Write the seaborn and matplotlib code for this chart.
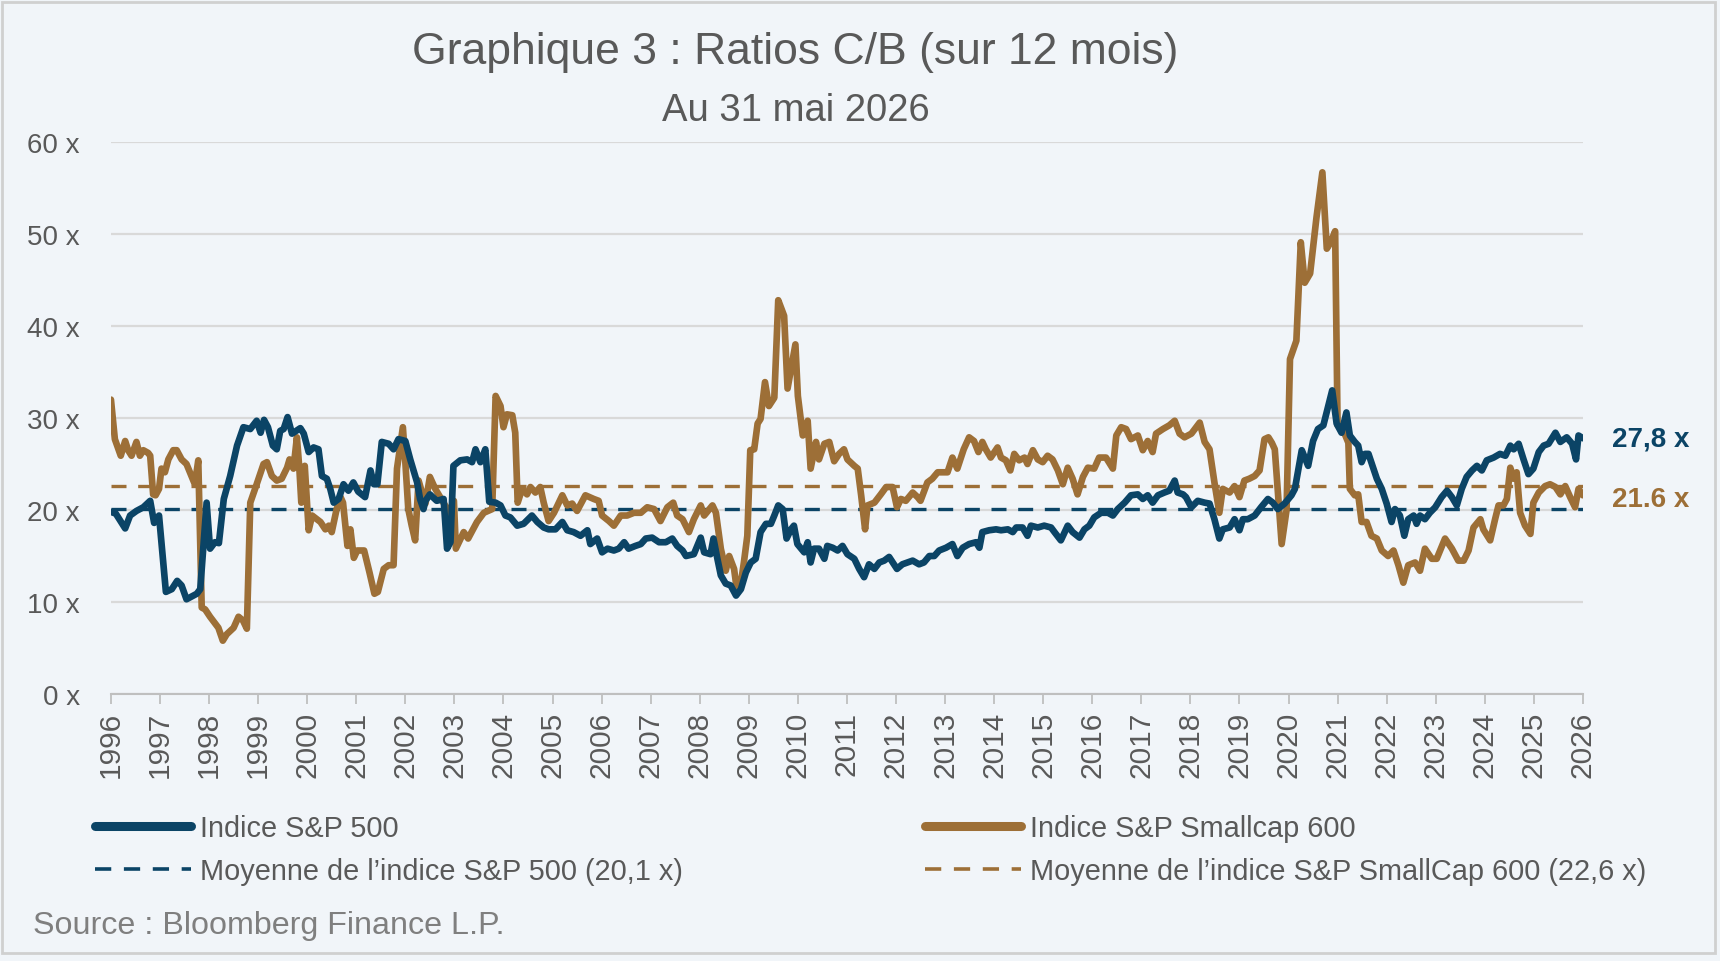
import pandas as pd
import seaborn as sns
import matplotlib.pyplot as plt
from matplotlib.lines import Line2D
from matplotlib.patches import Rectangle

# S&P 500 trailing P/E (fractional years)
spYears = [1996.00, 1996.10, 1996.29, 1996.39, 1996.52, 1996.66, 1996.80, 1996.88, 1996.98, 1997.12,
           1997.24, 1997.35, 1997.44, 1997.54, 1997.75, 1997.82, 1997.95, 1998.02, 1998.12, 1998.20,
           1998.30, 1998.43, 1998.57, 1998.70, 1998.84, 1998.97, 1999.05, 1999.12, 1999.20, 1999.30,
           1999.38, 1999.45, 1999.52, 1999.60, 1999.69, 1999.86, 1999.93, 2000.03, 2000.13, 2000.23,
           2000.30, 2000.40, 2000.47, 2000.54, 2000.64, 2000.74, 2000.84, 2000.94, 2001.04, 2001.18,
           2001.29, 2001.36, 2001.43, 2001.52, 2001.66, 2001.76, 2001.86, 2002.00, 2002.10, 2002.24,
           2002.30, 2002.37, 2002.41, 2002.50, 2002.64, 2002.78, 2002.85, 2002.92, 2002.98, 2003.12,
           2003.26, 2003.36, 2003.43, 2003.53, 2003.63, 2003.71, 2003.84, 2003.94, 2004.04, 2004.14,
           2004.28, 2004.41, 2004.58, 2004.69, 2004.82, 2004.92, 2005.06, 2005.20, 2005.30, 2005.43,
           2005.57, 2005.71, 2005.77, 2005.91, 2006.01, 2006.12, 2006.25, 2006.35, 2006.46, 2006.55,
           2006.69, 2006.80, 2006.90, 2007.03, 2007.17, 2007.31, 2007.44, 2007.54, 2007.65, 2007.72,
           2007.88, 2008.02, 2008.09, 2008.22, 2008.28, 2008.36, 2008.43, 2008.53, 2008.63, 2008.74,
           2008.84, 2008.94, 2009.04, 2009.14, 2009.24, 2009.35, 2009.45, 2009.52, 2009.60, 2009.69,
           2009.77, 2009.86, 2009.92, 2009.99, 2010.13, 2010.20, 2010.26, 2010.33, 2010.43, 2010.54,
           2010.60, 2010.71, 2010.81, 2010.91, 2011.01, 2011.15, 2011.25, 2011.35, 2011.45, 2011.56,
           2011.66, 2011.76, 2011.86, 2012.02, 2012.13, 2012.34, 2012.47, 2012.57, 2012.68, 2012.78,
           2012.88, 2013.02, 2013.15, 2013.25, 2013.36, 2013.49, 2013.63, 2013.70, 2013.76, 2013.90,
           2014.04, 2014.14, 2014.28, 2014.38, 2014.45, 2014.58, 2014.68, 2014.75, 2014.89, 2015.02,
           2015.16, 2015.23, 2015.36, 2015.50, 2015.60, 2015.74, 2015.84, 2015.94, 2016.04, 2016.18,
           2016.32, 2016.42, 2016.52, 2016.66, 2016.79, 2016.93, 2017.03, 2017.13, 2017.23, 2017.34,
           2017.47, 2017.57, 2017.68, 2017.74, 2017.85, 2017.91, 2018.02, 2018.15, 2018.29, 2018.39,
           2018.49, 2018.59, 2018.66, 2018.80, 2018.90, 2019.00, 2019.07, 2019.17, 2019.31, 2019.44,
           2019.58, 2019.68, 2019.78, 2019.92, 2020.06, 2020.13, 2020.27, 2020.40, 2020.50, 2020.60,
           2020.71, 2020.81, 2020.89, 2020.98, 2021.08, 2021.18, 2021.25, 2021.35, 2021.42, 2021.49,
           2021.56, 2021.63, 2021.73, 2021.80, 2021.90, 2022.00, 2022.10, 2022.17, 2022.27, 2022.36,
           2022.44, 2022.55, 2022.61, 2022.68, 2022.78, 2022.88, 2022.99, 2023.12, 2023.23, 2023.33,
           2023.43, 2023.53, 2023.63, 2023.74, 2023.84, 2023.94, 2024.04, 2024.18, 2024.31, 2024.42,
           2024.52, 2024.59, 2024.69, 2024.79, 2024.89, 2024.99, 2025.10, 2025.20, 2025.30, 2025.44,
           2025.54, 2025.67, 2025.78, 2025.86, 2025.91, 2026.00]
spValues = [19.8, 19.6, 18.0, 19.4, 19.9, 20.3, 21.0, 18.6, 19.4, 11.1,
            11.4, 12.3, 11.8, 10.3, 10.9, 11.4, 20.8, 15.8, 16.5, 16.4,
            21.2, 23.7, 27.0, 29.0, 28.8, 29.7, 28.4, 29.8, 29.0, 27.0,
            26.6, 28.6, 28.8, 30.1, 28.3, 28.9, 28.3, 26.3, 26.8, 26.6,
            23.7, 23.4, 22.3, 20.8, 21.2, 22.8, 22.1, 23.0, 22.0, 21.4,
            24.3, 22.8, 22.8, 27.4, 27.2, 26.6, 27.7, 27.5, 25.5, 23.0,
            21.2, 20.1, 21.0, 21.7, 21.0, 21.2, 15.8, 16.5, 24.8, 25.4,
            25.5, 25.2, 26.6, 25.2, 26.6, 20.9, 20.8, 20.5, 19.4, 19.2,
            18.3, 18.5, 19.4, 18.7, 18.1, 17.9, 17.9, 18.7, 17.8, 17.6,
            17.2, 17.8, 16.3, 16.9, 15.4, 15.8, 15.6, 15.8, 16.5, 15.8,
            16.1, 16.3, 16.9, 17.0, 16.5, 16.5, 16.9, 16.1, 15.6, 15.0,
            15.2, 17.0, 15.4, 15.2, 16.9, 14.7, 12.9, 12.0, 11.8, 10.7,
            11.4, 13.2, 14.3, 14.7, 17.6, 18.5, 18.5, 19.4, 20.5, 20.1,
            16.9, 17.9, 18.3, 16.3, 15.4, 16.5, 14.3, 15.8, 15.8, 14.7,
            16.1, 15.9, 15.6, 16.1, 15.2, 14.7, 13.6, 12.7, 14.1, 13.6,
            14.3, 14.5, 14.9, 13.6, 14.1, 14.5, 14.1, 14.3, 15.0, 15.0,
            15.6, 15.9, 16.3, 15.0, 15.9, 16.3, 16.5, 15.9, 17.6, 17.8,
            17.9, 17.8, 17.9, 17.6, 18.1, 18.1, 17.2, 18.3, 18.1, 18.3,
            18.1, 17.6, 16.7, 18.3, 17.6, 17.0, 17.9, 18.3, 19.2, 19.7,
            19.7, 19.4, 20.1, 20.8, 21.6, 21.7, 21.2, 21.6, 20.8, 21.6,
            21.9, 22.1, 23.2, 21.9, 21.7, 21.4, 20.3, 21.0, 20.8, 20.7,
            19.0, 16.9, 17.9, 18.1, 19.0, 17.8, 19.0, 19.0, 19.4, 20.3,
            21.2, 20.8, 20.1, 20.7, 21.6, 22.3, 26.5, 24.8, 27.5, 28.8,
            29.2, 31.3, 33.0, 29.4, 28.4, 30.6, 28.1, 27.4, 27.0, 25.2,
            26.1, 26.1, 24.5, 23.4, 22.3, 20.7, 18.7, 20.1, 19.4, 17.2,
            19.0, 19.4, 18.5, 19.4, 19.0, 19.7, 20.3, 21.4, 22.1, 21.4,
            20.5, 22.3, 23.6, 24.3, 24.8, 24.3, 25.4, 25.7, 26.1, 25.9,
            27.0, 26.6, 27.2, 25.5, 23.9, 24.5, 26.3, 27.0, 27.2, 28.4,
            27.4, 27.9, 27.2, 25.5, 28.1, 27.8]

# S&P SmallCap 600 trailing P/E
scYears = [1996.00, 1996.08, 1996.20, 1996.29, 1996.35, 1996.42, 1996.52, 1996.59, 1996.66, 1996.76,
           1996.80, 1996.86, 1996.91, 1996.98, 1997.03, 1997.10, 1997.17, 1997.27, 1997.34, 1997.44,
           1997.54, 1997.64, 1997.71, 1997.78, 1997.85, 1997.92, 1998.02, 1998.19, 1998.28, 1998.36,
           1998.50, 1998.60, 1998.69, 1998.77, 1998.84, 1998.97, 1999.11, 1999.18, 1999.28, 1999.38,
           1999.48, 1999.59, 1999.64, 1999.72, 1999.79, 1999.84, 1999.88, 1999.95, 2000.03, 2000.10,
           2000.27, 2000.37, 2000.44, 2000.50, 2000.60, 2000.68, 2000.73, 2000.82, 2000.88, 2000.95,
           2001.02, 2001.16, 2001.27, 2001.37, 2001.44, 2001.56, 2001.66, 2001.76, 2001.83, 2001.95,
           2002.00, 2002.06, 2002.13, 2002.20, 2002.27, 2002.34, 2002.41, 2002.50, 2002.61, 2002.71,
           2002.81, 2002.88, 2002.99, 2003.03, 2003.19, 2003.28, 2003.46, 2003.60, 2003.77, 2003.84,
           2003.94, 2004.00, 2004.07, 2004.18, 2004.24, 2004.29, 2004.38, 2004.48, 2004.55, 2004.65,
           2004.75, 2004.82, 2004.92, 2005.03, 2005.20, 2005.30, 2005.40, 2005.50, 2005.67, 2005.84,
           2005.94, 2006.01, 2006.15, 2006.25, 2006.39, 2006.52, 2006.66, 2006.80, 2006.93, 2007.07,
           2007.20, 2007.34, 2007.46, 2007.54, 2007.65, 2007.78, 2007.88, 2008.02, 2008.09, 2008.26,
           2008.33, 2008.43, 2008.53, 2008.60, 2008.70, 2008.75, 2008.84, 2008.90, 2008.97, 2009.03,
           2009.11, 2009.18, 2009.24, 2009.33, 2009.41, 2009.52, 2009.60, 2009.72, 2009.79, 2009.86,
           2009.95, 2010.00, 2010.10, 2010.20, 2010.26, 2010.37, 2010.43, 2010.54, 2010.64, 2010.74,
           2010.84, 2010.94, 2011.01, 2011.15, 2011.22, 2011.29, 2011.37, 2011.42, 2011.56, 2011.69,
           2011.80, 2011.93, 2012.02, 2012.10, 2012.20, 2012.34, 2012.44, 2012.50, 2012.64, 2012.74,
           2012.85, 2013.05, 2013.15, 2013.25, 2013.38, 2013.49, 2013.59, 2013.68, 2013.76, 2013.83,
           2013.93, 2014.07, 2014.14, 2014.24, 2014.33, 2014.41, 2014.51, 2014.62, 2014.68, 2014.79,
           2014.89, 2014.99, 2015.09, 2015.19, 2015.30, 2015.40, 2015.50, 2015.60, 2015.70, 2015.81,
           2015.91, 2016.04, 2016.14, 2016.28, 2016.42, 2016.49, 2016.59, 2016.69, 2016.79, 2016.93,
           2017.03, 2017.13, 2017.23, 2017.30, 2017.44, 2017.57, 2017.68, 2017.78, 2017.88, 2018.02,
           2018.19, 2018.29, 2018.39, 2018.49, 2018.59, 2018.66, 2018.80, 2018.90, 2019.00, 2019.10,
           2019.20, 2019.31, 2019.41, 2019.51, 2019.59, 2019.66, 2019.72, 2019.86, 2019.96, 2020.03,
           2020.16, 2020.25, 2020.33, 2020.44, 2020.57, 2020.69, 2020.78, 2020.86, 2020.95, 2021.00,
           2021.12, 2021.22, 2021.25, 2021.35, 2021.42, 2021.49, 2021.59, 2021.69, 2021.80, 2021.90,
           2022.03, 2022.14, 2022.24, 2022.34, 2022.44, 2022.58, 2022.68, 2022.78, 2022.92, 2023.02,
           2023.19, 2023.33, 2023.46, 2023.57, 2023.67, 2023.77, 2023.91, 2023.97, 2024.11, 2024.21,
           2024.28, 2024.38, 2024.45, 2024.52, 2024.59, 2024.65, 2024.72, 2024.82, 2024.93, 2024.99,
           2025.10, 2025.23, 2025.33, 2025.44, 2025.54, 2025.64, 2025.74, 2025.84, 2025.91, 2026.00]
scValues = [32.0, 27.7, 25.9, 27.5, 26.5, 25.9, 27.4, 25.9, 26.5, 26.2,
            25.9, 21.7, 21.6, 22.3, 24.5, 24.1, 25.5, 26.5, 26.5, 25.5,
            25.0, 23.7, 22.8, 25.4, 9.4, 9.2, 8.4, 7.2, 5.8, 6.5,
            7.2, 8.4, 8.0, 7.1, 20.8, 22.8, 25.0, 25.2, 23.7, 23.2,
            23.4, 24.6, 25.5, 24.5, 27.9, 24.5, 20.8, 24.8, 17.8, 19.4,
            18.7, 17.9, 18.3, 17.6, 20.1, 21.4, 20.8, 16.1, 17.9, 14.8,
            15.6, 15.6, 13.2, 10.9, 11.1, 13.6, 14.0, 14.0, 24.5, 29.0,
            25.2, 20.1, 18.3, 16.7, 23.2, 21.9, 20.7, 23.6, 22.3, 21.4,
            20.5, 19.6, 21.0, 15.8, 17.6, 16.9, 18.7, 19.7, 20.1, 32.4,
            31.3, 29.0, 30.4, 30.3, 28.4, 20.8, 22.3, 21.7, 22.5, 21.9,
            22.5, 20.8, 18.8, 19.7, 21.6, 20.5, 20.7, 19.9, 21.6, 21.2,
            21.0, 19.4, 18.8, 18.3, 19.4, 19.4, 19.7, 19.7, 20.3, 20.1,
            18.8, 20.3, 20.8, 19.4, 19.0, 17.6, 19.0, 20.5, 19.4, 20.5,
            19.7, 15.8, 13.4, 15.0, 13.6, 11.6, 12.1, 14.3, 17.2, 26.5,
            26.6, 29.4, 29.9, 33.9, 31.3, 32.2, 42.8, 41.1, 33.2, 35.3,
            38.0, 32.4, 28.1, 29.7, 24.5, 27.4, 25.5, 27.2, 27.4, 25.3,
            26.1, 26.6, 25.5, 24.8, 24.5, 21.6, 17.9, 20.5, 20.8, 21.7,
            22.5, 22.5, 20.3, 21.2, 21.0, 21.9, 21.4, 21.0, 23.0, 23.4,
            24.1, 24.1, 25.7, 24.5, 26.6, 27.9, 27.5, 26.3, 27.4, 26.6,
            25.7, 26.8, 25.7, 25.4, 24.3, 26.1, 25.4, 25.7, 25.0, 26.5,
            25.5, 25.2, 25.9, 25.5, 24.3, 22.8, 24.6, 23.4, 21.7, 23.6,
            24.6, 24.5, 25.7, 25.7, 24.5, 28.1, 29.0, 28.8, 27.7, 28.1,
            26.5, 27.5, 26.3, 28.3, 28.8, 29.2, 29.7, 28.3, 27.9, 28.3,
            29.5, 27.4, 26.6, 23.0, 19.7, 22.3, 21.9, 22.6, 21.4, 23.2,
            23.4, 23.7, 24.3, 27.7, 27.9, 27.3, 26.6, 16.3, 20.0, 36.4,
            38.4, 49.1, 44.7, 45.7, 51.8, 56.7, 48.4, 49.1, 50.3, 29.2,
            28.6, 27.3, 22.3, 21.6, 21.7, 18.7, 18.7, 17.2, 16.9, 15.6,
            15.0, 15.6, 14.0, 12.1, 14.0, 14.3, 13.4, 15.8, 14.7, 14.7,
            16.9, 15.8, 14.5, 14.5, 15.6, 18.1, 19.0, 17.9, 16.7, 19.0,
            20.5, 20.5, 21.2, 24.6, 23.4, 24.1, 19.7, 18.3, 17.4, 20.8,
            21.9, 22.6, 22.8, 22.5, 21.7, 22.6, 21.4, 20.3, 22.3, 21.6]

spMean = 20.1
scMean = 22.6
lastLabels = ['27,8 x', '21.6 x']
tickYears = list(range(1996, 2027))
yTicks = [0, 10, 20, 30, 40, 50, 60]
yTickLabels = ['0 x', '10 x', '20 x', '30 x', '40 x', '50 x', '60 x']
legendLabels = ['Indice S&P 500', 'Moyenne de l\u2019indice S&P 500 (20,1 x)',
                'Indice S&P Smallcap 600', 'Moyenne de l\u2019indice S&P SmallCap 600 (22,6 x)']

blue = '#0B4466'
brown = '#9D6F37'
bg = '#F1F5F9'
txt = '#595959'

sns.set_theme(style='white')
plt.rcParams['font.family'] = ['Liberation Sans', 'DejaVu Sans']

dfSp = pd.DataFrame({'Year': spYears, 'PE': spValues})
dfSc = pd.DataFrame({'Year': scYears, 'PE': scValues})

fig = plt.figure(figsize=(17.2, 9.62), dpi=100, facecolor=bg)
ax = fig.add_axes([0.0645, 0.2775, 0.8558, 0.5739])
ax.set_facecolor(bg)

ax.hlines(scMean, 1996, 2026, color=brown, lw=2.4, linestyles=(0, (4.5, 3.5)), zorder=2)
ax.hlines(spMean, 1996, 2026, color=blue, lw=2.4, linestyles=(0, (4.5, 3.5)), zorder=2)
sns.lineplot(data=dfSc, x='Year', y='PE', ax=ax, color=brown, lw=4.8, estimator=None,
             sort=False, zorder=3)
sns.lineplot(data=dfSp, x='Year', y='PE', ax=ax, color=blue, lw=4.8, estimator=None,
             sort=False, zorder=4)
for line in ax.get_lines():
    line.set_solid_joinstyle('round')
    line.set_solid_capstyle('round')

ax.set_xlim(1996, 2026)
ax.set_ylim(0, 60)
ax.set_xticks(tickYears)
ax.set_xticklabels([str(y) for y in tickYears], rotation=90)
ax.set_yticks(yTicks)
ax.set_yticklabels(yTickLabels)
ax.set_xlabel('')
ax.set_ylabel('')
ax.yaxis.grid(True, color='#D9D9D9', lw=1.6)
ax.set_axisbelow(True)
for s in ['top', 'right', 'left']:
    ax.spines[s].set_visible(False)
ax.spines['bottom'].set_color('#BFBFBF')
ax.spines['bottom'].set_linewidth(1.5)
ax.tick_params(axis='x', bottom=True, length=7, width=1.3, color='#BFBFBF', pad=5,
               labelsize=21.5, labelcolor=txt)
ax.tick_params(axis='y', left=False, length=0, pad=22.5, labelsize=20, labelcolor=txt)

ax.annotate(lastLabels[0], xy=(spYears[-1], spValues[-1]), xytext=(21, 0),
            textcoords='offset points', va='center', ha='left', fontsize=20,
            fontweight='bold', color=blue, annotation_clip=False)
ax.annotate(lastLabels[1], xy=(scYears[-1], scValues[-1]), xytext=(21, -2.5),
            textcoords='offset points', va='center', ha='left', fontsize=20,
            fontweight='bold', color=brown, annotation_clip=False)

fig.text(0.4622, 0.9455, 'Graphique 3 : Ratios C/B (sur 12 mois)', ha='center', va='center',
         fontsize=32, color=txt)
fig.text(0.4628, 0.885, 'Au 31 mai 2026', ha='center', va='center', fontsize=27.5, color=txt)
fig.text(0.0192, 0.037, 'Source : Bloomberg Finance L.P.', ha='left', va='center',
         fontsize=23.2, color='#7F7F7F')

solidKw = dict(lw=6.5, solid_capstyle='round')
dashKw = dict(lw=2.6, linestyle=(0, (4.5, 3.5)))
leftHandles = [Line2D([], [], color=blue, **solidKw), Line2D([], [], color=blue, **dashKw)]
rightHandles = [Line2D([], [], color=brown, **solidKw), Line2D([], [], color=brown, **dashKw)]
for handles, labels, x0 in [(leftHandles, legendLabels[:2], 0.055),
                            (rightHandles, legendLabels[2:], 0.5375)]:
    fig.legend(handles, labels, loc='upper left', bbox_to_anchor=(x0, 0.1525), frameon=False,
               fontsize=20.75, handlelength=3.35, handletextpad=0.3, labelspacing=0.52,
               borderpad=0, borderaxespad=0, labelcolor=txt)

fig.patches.append(Rectangle((0.0012, 0.0083), 0.9959, 0.9886, transform=fig.transFigure,
                             fill=False, edgecolor='#D0D0D0', lw=2))

fig.savefig('out.png', dpi=100, facecolor=bg)
